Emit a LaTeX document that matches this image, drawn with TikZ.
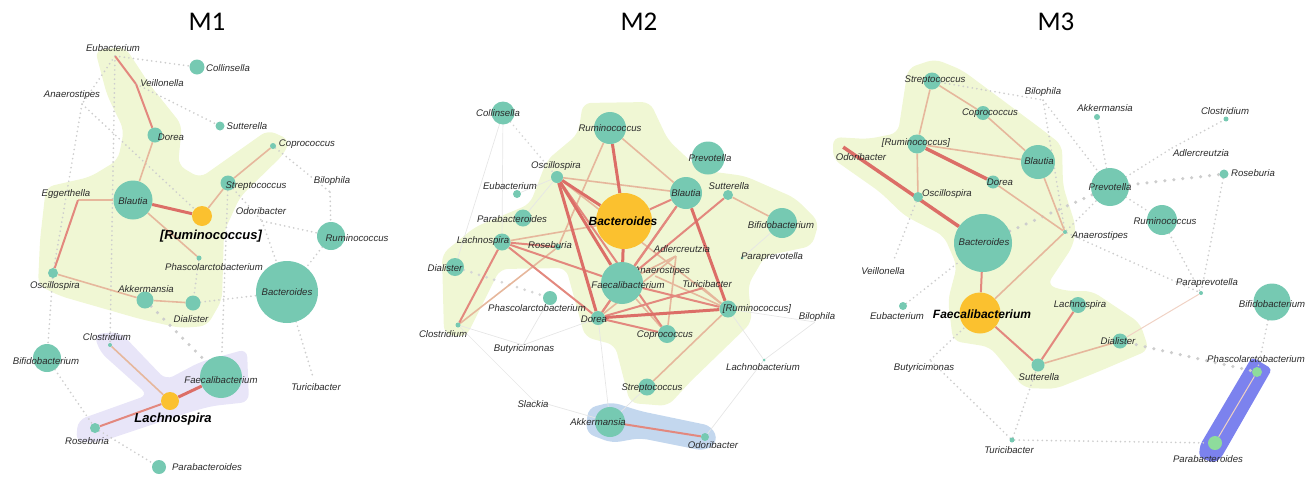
\documentclass[tikz,border=0pt]{standalone}
\usepackage{fontspec}
\newfontfamily\lsans{Liberation Sans}
\newfontfamily\tfont{Carlito}
\pgfdeclarelayer{hull}
\pgfdeclarelayer{edges}
\pgfsetlayers{hull,edges,main}
\definecolor{tealc}{HTML}{76C9B2}
\definecolor{yelc}{HTML}{FBC12F}
\definecolor{grnc}{HTML}{8EDC9C}
\definecolor{hullg}{HTML}{F0F7D4}
\definecolor{hulll}{HTML}{E8E5F8}
\definecolor{hullb}{HTML}{C3D7EE}
\definecolor{hullB}{HTML}{7C82EE}
\definecolor{redA}{HTML}{DC6E67}
\definecolor{redB}{HTML}{E3887E}
\definecolor{tanc}{HTML}{E6B79C}
\definecolor{tanl}{HTML}{F0D2C4}
\definecolor{greyc}{HTML}{CDCDCD}
\definecolor{greyd}{HTML}{D6D6D6}
\definecolor{greyl}{HTML}{E6E6E6}
\definecolor{txtc}{HTML}{2A2A2A}
\tikzset{
 tn/.style={circle,fill=tealc,inner sep=0pt,minimum size=#1pt},
 yn/.style={circle,fill=yelc,inner sep=0pt,minimum size=#1pt},
 gn/.style={circle,fill=grnc,inner sep=0pt,minimum size=#1pt},
 pt/.style={inner sep=0pt,minimum size=0pt},
 lab/.style={font=\lsans\itshape\fontsize{9.6}{10}\selectfont,text=txtc,inner sep=0pt},
 blab/.style={font=\lsans\bfseries\itshape\fontsize{#1}{#1}\selectfont,text=black,inner sep=0pt},
 ttl/.style={font=\tfont\fontsize{27}{30}\selectfont,text=black,inner sep=0pt},
 ea/.style={draw=redA,line width=3pt},
 eb/.style={draw=redB,line width=2pt},
 et/.style={draw=tanc,line width=1.6pt},
 etl/.style={draw=tanl,line width=1pt},
 dt/.style={draw=greyc,line width=1.9pt,dash pattern=on 0pt off 4.6pt,line cap=round},
 bd/.style={draw=greyc,line width=3.5pt,dash pattern=on 0pt off 9pt,line cap=round},
 bdl/.style={draw=greyd,line width=3pt,dash pattern=on 0pt off 8pt,line cap=round},
 fl/.style={draw=greyl,line width=0.7pt},
}
\newcommand\nd[5]{\node[#1] (#2) at (#3) {};\node[lab] (#2-t) at (#4) {#5};}
\begin{document}
\begin{tikzpicture}[x=1pt,y=-1pt]
\useasboundingbox (0,0) rectangle (1306,477);
% titles
\node[ttl] (t1) at (207,22) {M1};
\node[ttl] (t2) at (639,22) {M2};
\node[ttl] (t3) at (1056,22) {M3};
% ---------------- M1 nodes
\nd{pt}{a-eub}{115,56}{113,48}{Eubacterium}
\nd{tn=15}{a-col}{197,67}{228,68}{Collinsella}
\nd{pt}{a-vei}{136,84}{162,83}{Veillonella}
\nd{pt}{a-ana}{82,104}{72,95}{Anaerostipes}
\nd{tn=15}{a-dor}{155,135}{171,137}{Dorea}
\nd{tn=9}{a-sut}{220,126}{247,126}{Sutterella}
\nd{tn=6}{a-cop}{273,146}{307,144}{Coprococcus}
\nd{pt}{a-egg}{78,200}{66,194}{Eggerthella}
\nd{tn=39}{a-bla}{133,200}{133,201}{Blautia}
\nd{tn=15}{a-str}{228,183}{256,186}{Streptococcus}
\nd{pt}{a-bil}{330,192}{332,181}{Bilophila}
\nd{pt}{a-odo}{262,221}{261,211}{Odoribacter}
\node[yn=20] (a-rmb) at (202,216) {};
\node[blab=13] (a-rmb-t) at (211,236) {[Ruminococcus]};
\nd{tn=28}{a-rum}{331,236}{357,238}{Ruminococcus}
\nd{tn=62}{a-bac}{287,292}{287,292}{Bacteroides}
\nd{tn=5}{a-pha}{199,258}{214,267}{Phascolarctobacterium}
\nd{tn=10}{a-osc}{53,273}{55,286}{Oscillospira}
\nd{tn=17}{a-akk}{145,300}{146,289}{Akkermansia}
\nd{tn=15}{a-dia}{193,303}{191,319}{Dialister}
\nd{tn=4}{a-clo}{110,345}{107,337}{Clostridium}
\nd{tn=28}{a-bif}{47,358}{46,361}{Bifidobacterium}
\nd{tn=42}{a-fae}{221,377}{221,380}{Faecalibacterium}
\node[yn=18] (a-lac) at (170,401) {};
\node[blab=13] (a-lac-t) at (173,419) {Lachnospira};
\nd{tn=10}{a-ros}{95,428}{87,441}{Roseburia}
\nd{tn=14}{a-par}{159,467}{207,467}{Parabacteroides}
\nd{pt}{a-tur}{313,377}{316,387}{Turicibacter}
% ---------------- M2 nodes
\nd{tn=23}{b-col}{503,113}{498,113}{Collinsella}
\nd{tn=32}{b-rum}{610,128}{610,128}{Ruminococcus}
\nd{tn=33}{b-pre}{708,158}{710,158}{Prevotella}
\nd{tn=12}{b-osc}{557,177}{556,166}{Oscillospira}
\nd{tn=8}{b-eub}{517,194}{510,186}{Eubacterium}
\nd{tn=32}{b-bla}{686,193}{686,193}{Blautia}
\nd{tn=10}{b-sut}{728,195}{729,186}{Sutterella}
\nd{tn=17}{b-par}{523,218}{512,219}{Parabacteroides}
\node[yn=56] (b-bac) at (624,221) {};
\node[blab=12] (b-bac-t) at (623,221) {Bacteroides};
\nd{tn=30}{b-bif}{782,223}{781,225}{Bifidobacterium}
\nd{tn=17}{b-lac}{502,242}{483,241}{Lachnospira}
\nd{tn=6}{b-ros}{558,247}{550,245}{Roseburia}
\nd{pt}{b-adl}{676,256}{682,249}{Adlercreutzia}
\nd{tn=3}{b-ppr}{742,258}{772,257}{Paraprevotella}
\nd{tn=18}{b-dia}{455,267}{445,268}{Dialister}
\nd{pt}{b-ana}{655,276}{662,271}{Anaerostipes}
\nd{tn=42}{b-fae}{622,283}{628,285}{Faecalibacterium}
\nd{pt}{b-tur}{703,288}{707,284}{Turicibacter}
\nd{tn=14}{b-pha}{550,298}{537,308}{Phascolarctobacterium}
\nd{tn=17}{b-rmb}{728,309}{757,309}{[Ruminococcus]}
\nd{pt}{b-bil}{815,322}{817,317}{Bilophila}
\nd{tn=14}{b-dor}{598,318}{594,319}{Dorea}
\nd{tn=5}{b-clo}{458,325}{443,334}{Clostridium}
\nd{tn=18}{b-cop}{667,334}{665,335}{Coprococcus}
\nd{pt}{b-but}{523,345}{524,349}{Butyricimonas}
\nd{tn=3}{b-lcb}{764,360}{763,367}{Lachnobacterium}
\nd{tn=17}{b-str}{647,387}{652,388}{Streptococcus}
\nd{pt}{b-sla}{533,400}{533,404}{Slackia}
\nd{tn=30}{b-akk}{610,422}{598,422}{Akkermansia}
\nd{tn=8}{b-odo}{705,437}{713,445}{Odoribacter}
% ---------------- M3 nodes
\nd{tn=17}{c-str}{932,81}{935,80}{Streptococcus}
\nd{pt}{c-bil}{1043,100}{1043,92}{Bilophila}
\nd{tn=14}{c-cop}{983,113}{990,113}{Coprococcus}
\nd{tn=6}{c-akk}{1097,117}{1105,108}{Akkermansia}
\nd{tn=5}{c-clo}{1226,119}{1225,111}{Clostridium}
\nd{tn=19}{c-rmb}{917,144}{916,143}{[Ruminococcus]}
\nd{pt}{c-odo}{843,147}{861,157}{Odoribacter}
\nd{pt}{c-adl}{1172,148}{1201,153}{Adlercreutzia}
\nd{tn=34}{c-bla}{1038,162}{1039,161}{Blautia}
\nd{tn=9}{c-ros}{1224,174}{1253,173}{Roseburia}
\nd{tn=13}{c-dor}{993,182}{1000,182}{Dorea}
\nd{tn=38}{c-pre}{1110,187}{1110,187}{Prevotella}
\nd{tn=10}{c-osc}{918,197}{947,194}{Oscillospira}
\nd{tn=30}{c-rum}{1162,220}{1165,221}{Ruminococcus}
\nd{tn=4}{c-ana}{1065,232}{1100,236}{Anaerostipes}
\nd{tn=58}{c-bac}{983,243}{984,242}{Bacteroides}
\nd{pt}{c-vei}{893,262}{883,271}{Veillonella}
\nd{tn=4}{c-ppr}{1201,293}{1207,283}{Paraprevotella}
\nd{tn=37}{c-bif}{1272,302}{1272,304}{Bifidobacterium}
\nd{tn=16}{c-lac}{1078,305}{1080,305}{Lachnospira}
\nd{tn=8}{c-eub}{903,306}{897,316}{Eubacterium}
\node[yn=41] (c-fae) at (980,313) {};
\node[blab=12] (c-fae-t) at (982,314) {Faecalibacterium};
\nd{tn=15}{c-dia}{1120,341}{1118,341}{Dialister}
\nd{tn=13}{c-sut}{1038,365}{1039,377}{Sutterella}
\nd{pt}{c-but}{930,360}{924,368}{Butyricimonas}
\nd{gn=10}{c-pha}{1257,372}{1256,359}{Phascolarctobacterium}
\nd{tn=5}{c-tur}{1012,440}{1009,450}{Turicibacter}
\nd{gn=14}{c-pab}{1215,443}{1208,459}{Parabacteroides}
% ---------------- hulls
\begin{pgfonlayer}{hull}
\fill[hullg,rounded corners=8pt] (95,50) -- (125,47) -- (150,85) -- (182,125) -- (178,165) -- (200,178) -- (268,130) -- (290,140) -- (284,154) -- (240,197) -- (224,232) -- (222,300) -- (207,326) -- (180,328) -- (140,319) -- (60,296) -- (38,285) -- (40,240) -- (46,187) -- (90,177) -- (118,160) -- (124,130) -- (107,95) -- cycle;
\fill[hulll,rounded corners=8pt] (94,334) -- (120,332) -- (166,380) -- (200,362) -- (247,349) -- (249,402) -- (212,406) -- (190,412) -- (100,442) -- (76,442) -- (78,420) -- (148,395) -- (100,352) -- cycle;
\fill[hullg,rounded corners=8pt] (583,103) -- (650,102) -- (668,140) -- (700,170) -- (745,176) -- (795,198) -- (819,222) -- (812,246) -- (765,256) -- (748,285) -- (752,322) -- (690,382) -- (668,406) -- (630,403) -- (615,345) -- (585,337) -- (566,268) -- (500,269) -- (466,337) -- (444,334) -- (442,254) -- (475,227) -- (530,204) -- (547,160) -- (578,134) -- cycle;
\fill[hullb,rounded corners=8pt] (588,408) -- (612,402) -- (640,411) -- (712,426) -- (718,442) -- (705,451) -- (640,438) -- (612,443) -- (586,433) -- cycle;
\fill[hullg,rounded corners=8pt] (833,137) -- (868,139) -- (898,133) -- (908,68) -- (935,59) -- (962,70) -- (1040,128) -- (1062,145) -- (1063,186) -- (1076,227) -- (1073,246) -- (1047,285) -- (1066,291) -- (1092,291) -- (1140,323) -- (1149,350) -- (1100,371) -- (1055,389) -- (1024,388) -- (990,347) -- (953,341) -- (948,300) -- (957,266) -- (944,236) -- (905,216) -- (880,192) -- (833,159) -- cycle;
\fill[hullB,rounded corners=4pt] (1252,357) -- (1272,369) -- (1221,458) -- (1214,463) -- (1199,457) -- (1200,445) -- cycle;
\end{pgfonlayer}
% ---------------- edges
\begin{pgfonlayer}{edges}
% M1
\foreach \a/\b in {a-eub/a-col,a-eub/a-clo,a-eub/a-ana,a-ana/a-osc,a-ana/a-rmb,a-vei/a-sut,a-cop/a-bil,a-bil/a-rum,a-str/a-odo,a-odo/a-rum,a-rum/a-bac,a-bac/a-tur,a-dia/a-bac,a-pha/a-dia,a-str/a-fae,a-osc/a-bif,a-bif/a-ros,a-ros/a-par,a-odo/a-bac}
  \draw[dt] (\a) -- (\b);
\draw[bd] (a-akk) -- (a-fae);
\foreach \a/\b in {a-dor/a-bla,a-egg/a-bla,a-osc/a-akk,a-akk/a-dia,a-rmb/a-str,a-str/a-cop,a-bla/a-pha,a-clo/a-lac}
  \draw[et] (\a) -- (\b);
\foreach \a/\b in {a-eub/a-vei,a-vei/a-dor,a-egg/a-osc,a-lac/a-ros}
  \draw[eb] (\a) -- (\b);
\foreach \a/\b in {a-bla/a-rmb,a-lac/a-fae}
  \draw[ea] (\a) -- (\b);
% M2
\foreach \a/\b in {b-col/b-lac,b-col/b-dia,b-eub/b-osc,b-clo/b-sla,b-clo/b-but,b-dor/b-akk,b-str/b-akk,b-lcb/b-rmb,b-lcb/b-odo,b-lcb/b-bil,b-rmb/b-bil,b-ppr/b-bif,b-but/b-pha,b-par/b-osc,b-sla/b-akk,b-but/b-dor}
  \draw[fl] (\a) -- (\b);
\draw[dt,draw=greyd] (b-col) -- (b-osc);
\draw[bdl] (b-dia) -- (b-pha);
\foreach \a/\b in {b-osc/b-bla,b-rum/b-bla,b-rum/b-ros,b-lac/b-bac,b-ros/b-clo,b-sut/b-bif,b-fae/b-cop,b-cop/b-adl,b-rmb/b-str,b-rmb/b-tur,b-osc/b-rmb,b-fae/b-adl,b-dor/b-adl,b-rmb/b-ana}
  \draw[et] (\a) -- (\b);
\foreach \a/\b in {b-bla/b-bac,b-bla/b-fae,b-bla/b-dor,b-sut/b-fae,b-lac/b-fae,b-lac/b-ros,b-lac/b-clo,b-fae/b-rmb,b-fae/b-dor,b-dor/b-cop,b-osc/b-cop,b-akk/b-odo,b-lac/b-dor,b-dor/b-tur}
  \draw[eb] (\a) -- (\b);
\foreach \a/\b in {b-rum/b-bac,b-osc/b-bac,b-osc/b-fae,b-bla/b-rmb,b-fae/b-bac,b-dor/b-rmb,b-osc/b-dor}
  \draw[ea] (\a) -- (\b);
% M3
\foreach \a/\b in {c-pre/c-rum,c-pre/c-akk,c-pre/c-adl,c-adl/c-clo,c-ros/c-ppr,c-rum/c-ppr,c-ana/c-ppr,c-bif/c-pha,c-tur/c-pab,c-tur/c-sut,c-tur/c-but,c-but/c-fae,c-eub/c-bac,c-osc/c-vei,c-str/c-bil,c-bil/c-ana,c-bil/c-pre,c-ana/c-pre}
  \draw[dt] (\a) -- (\b);
\foreach \a/\b in {c-pre/c-ros,c-bac/c-pre,c-dia/c-pha}
  \draw[bd] (\a) -- (\b);
\foreach \a/\b in {c-dia/c-ppr,c-pha/c-pab}
  \draw[etl] (\a) -- (\b);
\foreach \a/\b in {c-str/c-cop,c-str/c-rmb,c-cop/c-bla,c-rmb/c-bla,c-rmb/c-osc,c-dor/c-ana,c-bla/c-ana,c-fae/c-ana,c-sut/c-dia}
  \draw[et] (\a) -- (\b);
\foreach \a/\b in {c-bac/c-fae,c-fae/c-sut,c-sut/c-lac}
  \draw[eb] (\a) -- (\b);
\draw[ea,line width=3.5pt] (c-odo) -- (c-bac);
\draw[ea,line width=3.5pt] (c-rmb) -- (c-dor);
\end{pgfonlayer}
\end{tikzpicture}
\end{document}
